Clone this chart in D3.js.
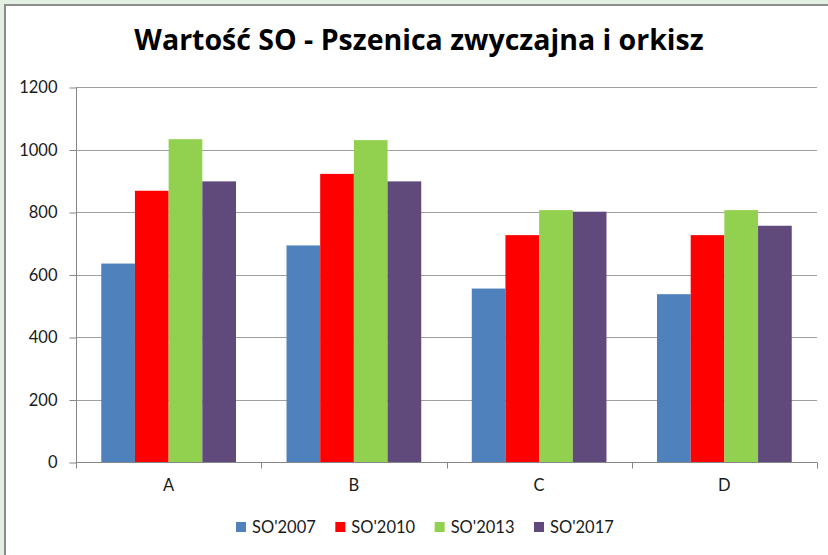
<!DOCTYPE html>
<html>
<head>
<meta charset="utf-8">
<script src="https://cdn.jsdelivr.net/npm/d3@7"></script>
<style>
  html, body { margin: 0; padding: 0; background: #e3efe2; }
  svg { display: block; }
  text { font-family: Lato, "Open Sans", sans-serif; }
</style>
</head>
<body>
<svg id="chart" width="828" height="555"></svg>
<script>
const categories = ["A", "B", "C", "D"];
const seriesNames = ["SO'2007", "SO'2010", "SO'2013", "SO'2017"];
const so2007 = [635, 693, 555, 537];
const so2010 = [868, 922, 726, 726];
const so2013 = [1033, 1030, 806, 806];
const so2017 = [898, 898, 801, 756];
const seriesColors = ["#4f81bd", "#ff0000", "#92d050", "#604a7b"];
const yTicks = [0, 200, 400, 600, 800, 1000, 1200];
const title = "Wartość SO - Pszenica zwyczajna i orkisz";

const seriesValues = [so2007, so2010, so2013, so2017];

const svg = d3.select("#chart");
const W = 828, H = 555;
const labelFont = "Lato, 'Open Sans', sans-serif";

// chart area box
svg.append("rect").attr("x", 5).attr("y", 5).attr("width", W + 10).attr("height", H + 10)
  .attr("fill", "#ffffff").attr("stroke", "#8c8c8c").attr("stroke-width", 2);

const plot = { left: 76, right: 817, top: 87, bottom: 462 };

const x0 = d3.scaleBand().domain(categories).range([plot.left, plot.right]).padding(0);
const bw = x0.bandwidth();
const gap = bw * 0.75 / 5.5; // excel gap width 150%
const x1 = d3.scaleBand().domain(seriesNames).range([gap, bw - gap]).padding(0);
const y = d3.scaleLinear().domain([0, 1200]).range([plot.bottom, plot.top]);

// gridlines
svg.append("g").selectAll("line").data(yTicks.filter(t => t > 0)).join("line")
  .attr("x1", plot.left).attr("x2", plot.right)
  .attr("y1", d => Math.round(y(d)) + 0.5).attr("y2", d => Math.round(y(d)) + 0.5)
  .attr("stroke", "#a0a0a0").attr("stroke-width", 1);

// bars
const groups = svg.append("g").selectAll("g").data(categories).join("g")
  .attr("transform", d => `translate(${x0(d)},0)`);
groups.selectAll("rect").data((c, i) => seriesNames.map((s, j) => ({ s, j, v: seriesValues[j][i] })))
  .join("rect")
  .attr("x", d => x1(d.s))
  .attr("y", d => y(d.v))
  .attr("width", x1.bandwidth())
  .attr("height", d => y(0) - y(d.v))
  .attr("fill", d => seriesColors[d.j]);

// y axis
const yAxis = d3.axisLeft(y).tickValues(yTicks).tickSize(7).tickPadding(12).tickFormat(d3.format("d"));
const yg = svg.append("g").attr("transform", `translate(${plot.left + 0.5},0.5)`).call(yAxis);
yg.select(".domain").attr("stroke", "#868686").attr("d", `M0,${plot.top - 0.5}V${plot.bottom}`);
yg.selectAll(".tick line").attr("stroke", "#868686");
yg.selectAll(".tick text").attr("fill", "#1a1a1a").style("font-size", "16.5px").style("font-family", labelFont);

// x axis
const xAxis = d3.axisBottom(x0).tickSize(0).tickPadding(17);
const xg = svg.append("g").attr("transform", `translate(0,${plot.bottom + 0.5})`).call(xAxis);
xg.select(".domain").attr("stroke", "#868686").attr("d", `M${plot.left},0H${plot.right}`);
xg.selectAll(".tick text").attr("fill", "#1a1a1a").style("font-size", "16.5px").style("font-family", labelFont);
// category boundary ticks
const bounds = categories.map(c => x0(c)).concat([plot.right]);
xg.selectAll(".bound").data(bounds).join("line").attr("class", "bound")
  .attr("x1", d => Math.round(d) + 0.5).attr("x2", d => Math.round(d) + 0.5)
  .attr("y1", 0).attr("y2", 6).attr("stroke", "#868686");

// title
svg.append("text").attr("x", 419).attr("y", 50).attr("text-anchor", "middle")
  .style("font-size", "28.5px").style("font-weight", "bold")
  .style("font-family", "'Open Sans', Lato, sans-serif").attr("fill", "#000")
  .text(title);

// legend
const legendX = d3.scalePoint().domain(seriesNames).range([236, 534]);
const lg = svg.append("g").selectAll("g").data(seriesNames).join("g")
  .attr("transform", d => `translate(${legendX(d)},522)`);
lg.append("rect").attr("width", 10).attr("height", 10).attr("fill", (d, i) => seriesColors[i]);
lg.append("text").attr("x", 16).attr("y", 10.5).style("font-size", "16.5px")
  .style("font-family", labelFont).attr("fill", "#1a1a1a").text(d => d);
</script>
</body>
</html>
